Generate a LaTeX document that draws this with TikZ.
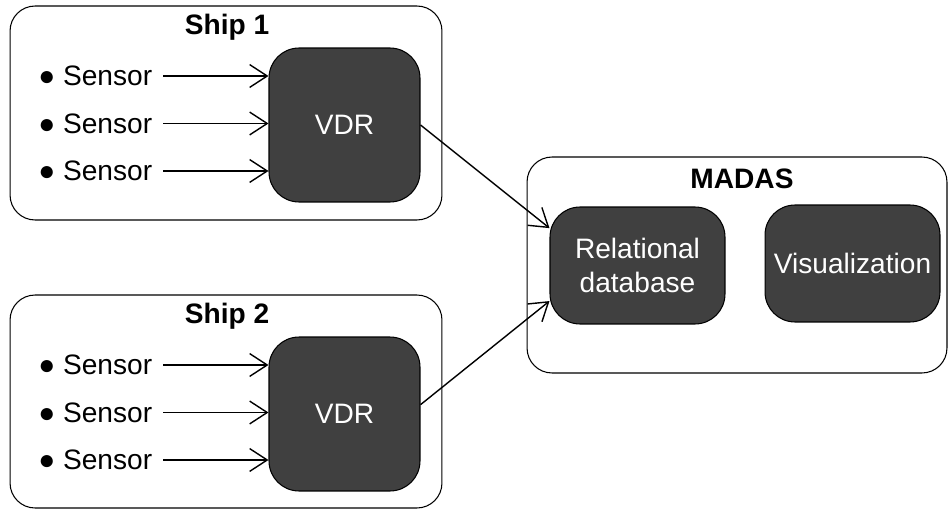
\documentclass[tikz,border=0pt]{standalone}
\usepackage{fontspec}
\setmainfont{Liberation Sans}
\usetikzlibrary{positioning,arrows.meta}

\definecolor{unitgray}{HTML}{404040}
\tikzset{
  ship/.style={draw, line width=0.6pt, rounded corners=0.5cm},
  unit/.style={draw, line width=0.6pt, fill=unitgray, text=white,
    rounded corners=0.6cm, align=center},
  heading/.style={font=\fontsize{16}{19}\selectfont\bfseries, anchor=base},
  sensor/.style={inner sep=0pt},
  feed/.style={-{Straight Barb[length=10pt,width=13pt]}, line width=0.8pt}
}

\begin{document}
\begin{tikzpicture}[x=0.02cm, y=-0.02cm, font=\fontsize{16}{19}\selectfont,
    node distance=0.95cm, on grid]
    \useasboundingbox (0,0) rectangle (949,510);

    % containers
    \node[ship, minimum width=8.64cm, minimum height=4.28cm] (ship1) at (226,113) {};
    \node[ship, minimum width=8.64cm, minimum height=4.26cm] (ship2) at (226,401.5) {};
    \node[ship, minimum width=8.4cm, minimum height=4.32cm] (madas) at (737,265) {};
    \node[heading] (t_ship1) at (227,35) {Ship 1};
    \node[heading] (t_ship2) at (227,323) {Ship 2};
    \node[heading] (t_madas) at (742,188) {MADAS};

    % units
    \node[unit, minimum width=3.02cm, minimum height=3.08cm] (vdr1) at (344.5,125) {VDR};
    \node[unit, minimum width=3.02cm, minimum height=3.08cm] (vdr2) at (344.5,414) {VDR};
    \node[unit, minimum width=3.5cm, minimum height=2.34cm] (rdb) at (637.5,265.5) {Relational\\database};
    \node[unit, minimum width=3.5cm, minimum height=2.34cm] (vis) at (852.5,263.5) {Visualization};

    % sensors
    \node[sensor, anchor=west] (s1a) at (38,76) {● Sensor};
    \node[sensor] (s1b) [below=of s1a] {● Sensor};
    \node[sensor] (s1c) [below=of s1b] {● Sensor};
    \node[sensor, anchor=west] (s2a) at (38,365) {● Sensor};
    \node[sensor] (s2b) [below=of s2a] {● Sensor};
    \node[sensor] (s2c) [below=of s2b] {● Sensor};

    \foreach \s in {s1a,s1b,s1c}
        \draw[feed, shorten <=6pt] (\s.east) -- (\s.east -| vdr1.west);
    \foreach \s in {s2a,s2b,s2c}
        \draw[feed, shorten <=6pt] (\s.east) -- (\s.east -| vdr2.west);

    \draw[feed] (vdr1.east) -- (rdb.157);
    \draw[feed] (vdr2.7) -- (rdb.202);
\end{tikzpicture}
\end{document}
